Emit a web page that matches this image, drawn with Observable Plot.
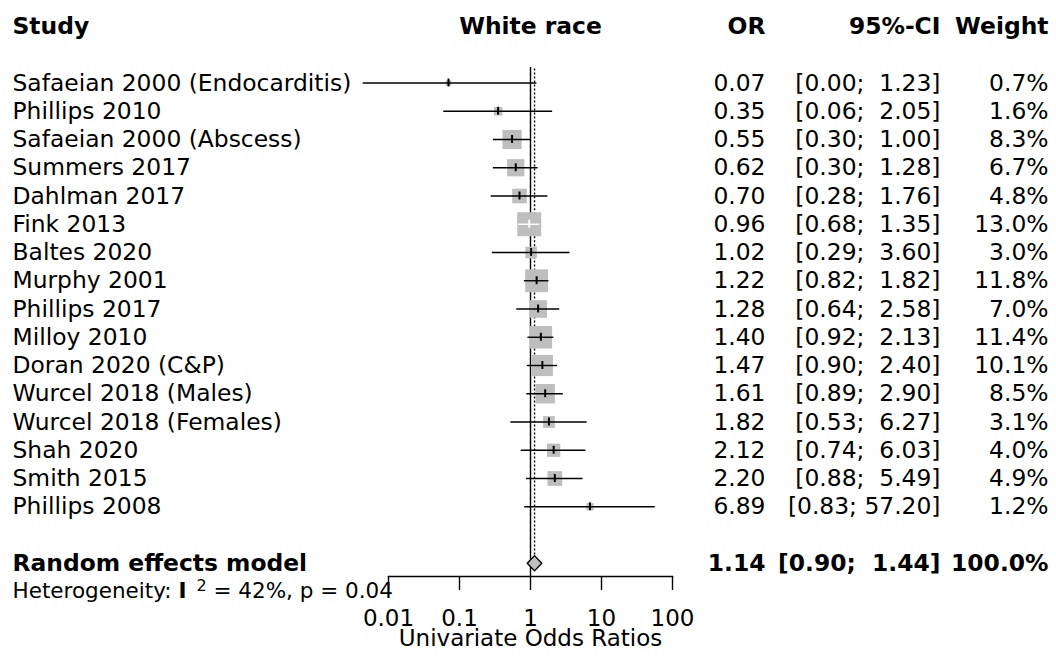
<!DOCTYPE html>
<html><head><meta charset="utf-8">
<script src="https://cdn.jsdelivr.net/npm/d3@7"></script>
<script src="https://cdn.jsdelivr.net/npm/@observablehq/plot@0.6"></script>
<style>
body{margin:0;background:#fff;}
svg text{white-space:pre;}
</style></head><body><div id="chart"></div>
<script>
// ---------------- data ----------------
const studies = [
  "Safaeian 2000 (Endocarditis)", "Phillips 2010", "Safaeian 2000 (Abscess)", "Summers 2017",
  "Dahlman 2017", "Fink 2013", "Baltes 2020", "Murphy 2001", "Phillips 2017", "Milloy 2010",
  "Doran 2020 (C&P)", "Wurcel 2018 (Males)", "Wurcel 2018 (Females)", "Shah 2020", "Smith 2015", "Phillips 2008"
];
const oddsRatios = [0.07, 0.35, 0.55, 0.62, 0.70, 0.96, 1.02, 1.22, 1.28, 1.40, 1.47, 1.61, 1.82, 2.12, 2.20, 6.89];
const ciLower   = [0.0044, 0.06, 0.30, 0.30, 0.28, 0.68, 0.29, 0.82, 0.64, 0.92, 0.90, 0.89, 0.53, 0.74, 0.88, 0.83];
const ciUpper   = [1.23, 2.05, 1.00, 1.28, 1.76, 1.35, 3.60, 1.82, 2.58, 2.13, 2.40, 2.90, 6.27, 6.03, 5.49, 57.20];
const weights   = [0.7, 1.6, 8.3, 6.7, 4.8, 13.0, 3.0, 11.8, 7.0, 11.4, 10.1, 8.5, 3.1, 4.0, 4.9, 1.2];
const pooledLabel = "Random effects model";
const pooledOR = 1.14, pooledLower = 0.90, pooledUpper = 1.44, pooledWeight = 100.0;
const hetI2 = 42, hetP = 0.04;
const tickValues = [0.01, 0.1, 1, 10, 100];
const tickLabels = ["0.01", "0.1", "1", "10", "100"];
const headerStudy = "Study", headerEffect = "White race", headerOR = "OR", headerCI = "95%-CI", headerWeight = "Weight";
const axisLabel = "Univariate Odds Ratios";

// ---------------- layout ----------------
const W = 1056, H = 660;
const mL = 388, mR = 384, mT = 67, mB = 84;
const row0 = 82.5, rowStep = 28.25;
const font = "DejaVu Sans";
const fs = 23.4, fsHet = 21.5;
const grey = "#bebebe";
const rMax = 13.54;             // r for the largest weight
const wMax = d3.max(weights);
const pxPerDecade = (W - mR - mL) / Math.log10(tickValues[tickValues.length-1] / tickValues[0]);
const colStudy = 12 - mL;       // offsets relative to frame left
const colOR = 765 - (W - mR);   // offsets relative to frame right
const colCI = 940 - (W - mR);
const colWt = 1048 - (W - mR);

const fmt2 = v => v.toFixed(2);
const ciText = (lo, hi) => `[${fmt2(lo)};${hi < 10 ? " \u00a0" : " "}${fmt2(hi)}]`;

const rows = studies.map((s, i) => {
  const half = Math.sqrt(Math.PI) * rMax * Math.sqrt(weights[i] / wMax) / 2 / pxPerDecade;
  const c = Math.log10(oddsRatios[i]);
  const inside = Math.log10(ciLower[i]) >= c - half && Math.log10(ciUpper[i]) <= c + half;
  return {
    study: s, or: oddsRatios[i], lower: ciLower[i], upper: ciUpper[i], weight: weights[i], row: i,
    col: inside ? "white" : "black",
    orText: fmt2(oddsRatios[i]), ciText: ciText(ciLower[i], ciUpper[i]), wtText: weights[i].toFixed(1) + "%"
  };
});
const pooledRow = studies.length + 1;
const hetRow = pooledRow + 1;
const headerRow = -2;
const dh = 0.27; // diamond half height (rows)
const diamond = [
  {x: pooledLower, y: pooledRow}, {x: pooledOR, y: pooledRow - dh},
  {x: pooledUpper, y: pooledRow}, {x: pooledOR, y: pooledRow + dh}
];
const sw = 1.4;

const txt = (text, opts) => Plot.text([0], {text: () => text, fontFamily: font, fontSize: fs, ...opts});

const plot = Plot.plot({
  width: W, height: H,
  marginLeft: mL, marginRight: mR, marginTop: mT, marginBottom: mB,
  style: {fontFamily: font, background: "white", color: "black"},
  x: {type: "log", domain: [tickValues[0], tickValues[tickValues.length-1]]},
  y: {type: "linear", domain: [0, studies.length - 1], range: [row0, row0 + (studies.length - 1) * rowStep], axis: null},
  r: {type: "sqrt", domain: [0, wMax], range: [0, rMax]},
  marks: [
    // reference line at OR = 1
    Plot.ruleX([1], {stroke: "black", strokeWidth: sw}),
    // pooled estimate dotted line
    Plot.ruleX([pooledOR], {y1: -0.5, y2: pooledRow - dh, stroke: "black", strokeWidth: sw, strokeDasharray: "2,2"}),
    // squares
    Plot.dot(rows, {x: "or", y: "row", r: "weight", symbol: "square", fill: grey, stroke: null}),
    // CI lines
    Plot.ruleY(rows, {y: "row", x1: "lower", x2: "upper", stroke: "col", strokeWidth: sw}),
    // estimate ticks
    Plot.ruleX(rows, {x: "or", y1: d => d.row - 0.14, y2: d => d.row + 0.14, stroke: "col", strokeWidth: 2}),
    // diamond
    Plot.line(diamond, {x: "x", y: "y", curve: "linear-closed", fill: grey, stroke: "black", strokeWidth: sw}),
    // axis
    Plot.frame({anchor: "bottom", strokeWidth: sw}),
    Plot.axisX({ticks: tickValues, tickFormat: (d) => tickLabels[tickValues.indexOf(d)], tickSize: 14, tickPadding: 19,
      fontSize: 23, fontFamily: font, strokeWidth: sw, label: null}),
    Plot.text([axisLabel], {text: d => d, frameAnchor: "bottom", dy: 69, fontSize: 23, fontFamily: font}),
    // headers
    txt(headerStudy, {frameAnchor: "left", y: () => headerRow, dx: colStudy, textAnchor: "start", fontWeight: "bold"}),
    txt(headerEffect, {x: () => 1, y: () => headerRow, fontWeight: "bold"}),
    txt(headerOR, {frameAnchor: "right", y: () => headerRow, dx: colOR, textAnchor: "end", fontWeight: "bold"}),
    txt(headerCI, {frameAnchor: "right", y: () => headerRow, dx: colCI, textAnchor: "end", fontWeight: "bold"}),
    txt(headerWeight, {frameAnchor: "right", y: () => headerRow, dx: colWt, textAnchor: "end", fontWeight: "bold"}),
    // study rows
    Plot.text(rows, {text: "study", frameAnchor: "left", y: "row", dx: colStudy, textAnchor: "start", fontSize: fs, fontFamily: font}),
    Plot.text(rows, {text: "orText", frameAnchor: "right", y: "row", dx: colOR, textAnchor: "end", fontSize: fs, fontFamily: font}),
    Plot.text(rows, {text: "ciText", frameAnchor: "right", y: "row", dx: colCI, textAnchor: "end", fontSize: fs, fontFamily: font}),
    Plot.text(rows, {text: "wtText", frameAnchor: "right", y: "row", dx: colWt, textAnchor: "end", fontSize: fs, fontFamily: font}),
    // pooled row
    txt(pooledLabel, {frameAnchor: "left", y: () => pooledRow, dx: colStudy, textAnchor: "start", fontWeight: "bold"}),
    txt(fmt2(pooledOR), {frameAnchor: "right", y: () => pooledRow, dx: colOR, textAnchor: "end", fontWeight: "bold"}),
    txt(ciText(pooledLower, pooledUpper), {frameAnchor: "right", y: () => pooledRow, dx: colCI, textAnchor: "end", fontWeight: "bold"}),
    txt(pooledWeight.toFixed(1) + "%", {frameAnchor: "right", y: () => pooledRow, dx: colWt, textAnchor: "end", fontWeight: "bold"}),
    // heterogeneity
    txt(`Heterogeneity: I2 = ${hetI2}%, p = ${hetP}`, {frameAnchor: "left", y: () => hetRow, dx: colStudy, textAnchor: "start", fontSize: fsHet})
  ]
});
document.getElementById("chart").append(plot);

// render "I^2" with a superscript
d3.select(plot).selectAll("text").filter(function() { return this.textContent.startsWith("Heterogeneity"); })
  .each(function() {
    const t = d3.select(this);
    t.text("");
    t.append("tspan").text("Heterogeneity: ");
    t.append("tspan").attr("font-weight", "bold").text("I");
    t.append("tspan").attr("dx", 10).attr("dy", -7).attr("font-size", 16).text(String(2));
    t.append("tspan").attr("dy", 7).text(` = ${hetI2}%, p = ${hetP}`);
  });
</script></body></html>
